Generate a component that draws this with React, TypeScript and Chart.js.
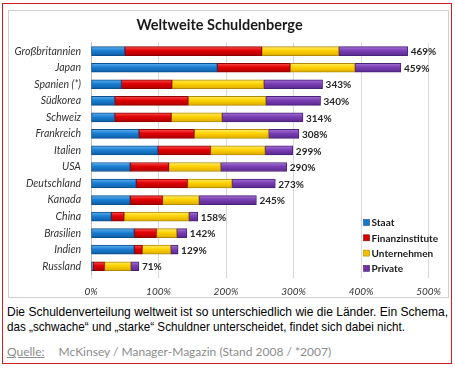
import React, { useEffect, useLayoutEffect, useRef } from "react";
import { Chart, registerables } from "chart.js";
Chart.register(...registerables);

const countries = [
  "Großbritannien", "Japan", "Spanien (*)", "Südkorea", "Schweiz", "Frankreich", "Italien",
  "USA", "Deutschland", "Kanada", "China", "Brasilien", "Indien", "Russland",
];
const staat = [50, 187, 45, 35, 35, 71, 99, 58, 67, 58, 30, 64, 64, 3];
const finanzinstitute = [203, 108, 75, 109, 84, 82, 78, 57, 76, 48, 19, 33, 12, 17];
const unternehmen = [114, 96, 136, 115, 75, 110, 81, 77, 66, 54, 96, 30, 42, 39];
const privat = [102, 68, 87, 81, 120, 45, 41, 98, 64, 85, 13, 15, 11, 12];
const totals = [469, 459, 343, 340, 314, 308, 299, 290, 273, 245, 158, 142, 129, 71];
const seriesNames = ["Staat", "Finanzinstitute", "Unternehmen", "Private"];
const xTicks = [0, 100, 200, 300, 400, 500];
const captionLines = [
  "Die Schuldenverteilung weltweit ist so unterschiedlich wie die Länder. Ein Schema,",
  "das „schwache“ und „starke“ Schuldner unterscheidet, findet sich dabei nicht.",
];
const captionWidths = [441, 398];

const palettes = [
  { top: "#6cb6f0", mid: "#1a7fd4", bot: "#0d5aa0", border: "#0b4f8c", key: "#1b78c8" },
  { top: "#ff5a5a", mid: "#e00000", bot: "#a80000", border: "#8c0000", key: "#d40000" },
  { top: "#fff07a", mid: "#ffd200", bot: "#d9a800", border: "#b08a00", key: "#f0c000" },
  { top: "#a779d6", mid: "#7a3fb4", bot: "#55268a", border: "#4a2178", key: "#7030a0" },
];

const FONT = "Lato, 'Open Sans', sans-serif";

export default function App() {
  const ref = useRef<HTMLCanvasElement | null>(null);
  const lineRefs = useRef<(HTMLSpanElement | null)[]>([]);

  useLayoutEffect(() => {
    lineRefs.current.forEach((el, i) => {
      if (!el) return;
      const w = el.getBoundingClientRect().width;
      if (w > 0) el.style.transform = `scaleX(${captionWidths[i] / w})`;
    });
  }, []);

  useEffect(() => {
    if (!ref.current) return;
    const mkBg = (p: any) => (ctx: any) => {
      const chart = ctx.chart;
      const ys = chart.scales?.y;
      if (!ys || ctx.dataIndex === undefined) return p.mid;
      const y = ys.getPixelForValue(ctx.dataIndex);
      if (!Number.isFinite(y)) return p.mid;
      const g = chart.ctx.createLinearGradient(0, y - 5, 0, y + 5);
      g.addColorStop(0, p.top);
      g.addColorStop(0.45, p.mid);
      g.addColorStop(1, p.bot);
      return g;
    };
    const values = [staat, finanzinstitute, unternehmen, privat];
    const valueLabels = {
      id: "valueLabels",
      afterDatasetsDraw(chart: any) {
        const meta = chart.getDatasetMeta(3);
        const c = chart.ctx;
        c.save();
        c.font = `bold 10px ${FONT}`;
        c.fillStyle = "#262626";
        c.textBaseline = "middle";
        c.textAlign = "left";
        meta.data.forEach((el: any, i: number) => {
          c.fillText(totals[i] + "%", el.x + 3, el.y + 1);
        });
        c.restore();
      },
    };
    const legendPlugin = {
      id: "customLegend",
      afterDraw(chart: any) {
        const c = chart.ctx;
        const a = chart.chartArea;
        c.save();
        c.font = `bold 10px ${FONT}`;
        c.textBaseline = "middle";
        seriesNames.forEach((n, i) => {
          const y = a.bottom - 52 + i * 15.3;
          const x = a.right - 65;
          c.fillStyle = palettes[i].key;
          c.fillRect(x, y - 3, 6, 6);
          c.strokeStyle = palettes[i].border;
          c.lineWidth = 0.6;
          c.strokeRect(x, y - 3, 6, 6);
          c.fillStyle = "#1a1a1a";
          c.fillText(n, x + 8, y + 0.5);
        });
        c.restore();
      },
    };
    const chart = new Chart(ref.current, {
      type: "bar",
      data: {
        labels: countries,
        datasets: values.map((v, i) => ({
          label: seriesNames[i],
          data: v,
          backgroundColor: mkBg(palettes[i]),
          borderColor: palettes[i].border,
          borderWidth: 1,
          borderSkipped: false,
          barThickness: 9,
        })),
      },
      options: {
        indexAxis: "y",
        animation: false,
        responsive: false,
        maintainAspectRatio: false,
        layout: { padding: { left: 0, right: 18, top: 0, bottom: 0 } },
        plugins: {
          legend: { display: false },
          tooltip: { enabled: false },
          title: {
            display: true,
            text: "Weltweite Schuldenberge",
            color: "#1a1a1a",
            font: { family: FONT, size: 14.5, weight: "bold" },
            padding: { top: 6, bottom: 8.5 },
          },
        },
        scales: {
          x: {
            stacked: true,
            min: 0,
            max: 500,
            afterBuildTicks: (s: any) => {
              s.ticks = xTicks.map((v) => ({ value: v }));
            },
            afterFit: (s: any) => {
              s.height = 22.5;
            },
            grid: { color: "#d9d9d9", lineWidth: 1, tickLength: 4, drawTicks: true },
            border: { display: false },
            ticks: {
              padding: 7,
              color: "#333333",
              font: { family: FONT, size: 10, style: "italic" },
              callback: (v: any) => v + "%",
            },
          },
          y: {
            stacked: true,
            afterFit: (s: any) => {
              s.width = 82;
            },
            grid: { display: false, drawTicks: false },
            border: { display: true, color: "#bfbfbf" },
            ticks: {
              padding: 10,
              color: "#333333",
              font: { family: FONT, size: 10.5, style: "italic" },
            },
          },
        },
      },
      plugins: [valueLabels, legendPlugin],
    } as any);
    return () => chart.destroy();
  }, []);

  return (
    <div style={{ position: "absolute", left: 0, top: 0, width: 455, height: 369, background: "#fff" }}>
      <div
        style={{
          position: "absolute", left: 2, top: 3, width: 448, height: 359,
          border: "1px solid #d21f1f", boxSizing: "content-box",
        }}
      />
      <div
        style={{
          position: "absolute", left: 8, top: 10, width: 439, height: 286,
          border: "1px solid #cfcfcf", boxSizing: "content-box",
        }}
      >
        <canvas ref={ref} width={439} height={286} style={{ display: "block", width: 439, height: 286 }} />
      </div>
      {captionLines.map((t, i) => (
        <span
          key={i}
          ref={(el) => {
            lineRefs.current[i] = el;
          }}
          style={{
            position: "absolute", left: 7, top: 304 + i * 15, whiteSpace: "nowrap",
            fontFamily: "'Liberation Sans', Arial, sans-serif", fontSize: 13.5, lineHeight: "15px",
            color: "#000", transformOrigin: "0 0", display: "inline-block",
          }}
        >
          {t}
        </span>
      ))}
      <div
        style={{
          position: "absolute", left: 7, top: 344, fontFamily: FONT, fontSize: 12,
          color: "#8c8c8c", whiteSpace: "nowrap",
        }}
      >
        <span style={{ textDecoration: "underline" }}>Quelle:</span>
        <span style={{ display: "inline-block", width: 14 }} />
        McKinsey / Manager-Magazin (Stand 2008 / *2007)
      </div>
    </div>
  );
}
